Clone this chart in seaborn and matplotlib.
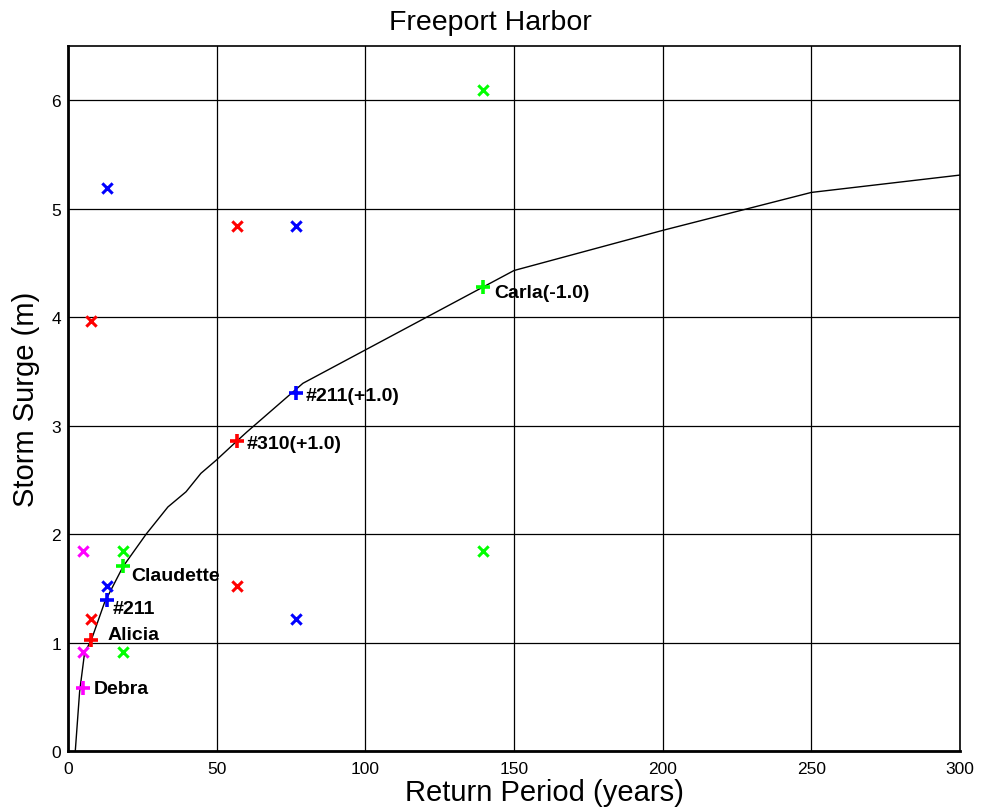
import numpy as np
import pandas as pd
import matplotlib
matplotlib.use("Agg")
import matplotlib.pyplot as plt
import seaborn as sns

# Fitted curve (return period vs surge)
curve_x = [2.45, 3.9, 5.6, 7.8, 12.3, 18.5, 26.3, 33.6, 39.7, 44.7, 49.8, 56.5, 60.1, 79.0, 150.0, 200.0, 250.0, 300.0]
curve_y = [0.0, 0.545, 0.91, 1.02, 1.37, 1.70, 2.0, 2.25, 2.39, 2.56, 2.68, 2.85, 2.94, 3.39, 4.43, 4.80, 5.15, 5.31]

# Storm "+" points
storm_names = ["Debra", "Alicia", "#211", "Claudette", "#310(+1.0)", "#211(+1.0)", "Carla(-1.0)"]
storm_x = [5.0, 7.7, 13.1, 18.5, 56.8, 76.7, 139.6]
storm_y = [0.58, 1.02, 1.39, 1.71, 2.86, 3.30, 4.28]
storm_color = ["#ff00ff", "#ff0000", "#0000ff", "#00ff00", "#ff0000", "#0000ff", "#00ff00"]

# "x" points (ranges)
rng_x = [5.0, 5.0, 7.7, 7.7, 13.1, 13.1, 18.5, 18.5, 56.8, 56.8, 76.7, 76.7, 139.6, 139.6]
rng_y = [1.84, 0.915, 1.22, 3.96, 1.52, 5.19, 1.84, 0.915, 4.84, 1.52, 4.84, 1.22, 6.09, 1.84]
rng_color = ["#ff00ff", "#ff00ff", "#ff0000", "#ff0000", "#0000ff", "#0000ff", "#00ff00", "#00ff00",
             "#ff0000", "#ff0000", "#0000ff", "#0000ff", "#00ff00", "#00ff00"]

# label offsets in points
label_dx = [8, 12, 4, 6, 7, 7, 8]
label_dy = [0, 4, -6, -7, -2, -2, -4]

x_ticks = [0, 50, 100, 150, 200, 250, 300]
y_ticks = [0, 1, 2, 3, 4, 5, 6]

sns.set_theme(style="white")
plt.rcParams['font.family'] = ['Liberation Sans', 'DejaVu Sans']
plt.rcParams['text.color'] = 'black'
plt.rcParams['axes.labelcolor'] = 'black'

fig = plt.figure(figsize=(9.82, 8.12), dpi=100)
ax = fig.add_axes([68/982, 1-752/812, (960-68)/982, (752-47)/812])

df_curve = pd.DataFrame({"x": curve_x, "y": curve_y})
sns.lineplot(data=df_curve, x="x", y="y", ax=ax, color="black", linewidth=1.0, sort=False, zorder=3)

df_rng = pd.DataFrame({"x": rng_x, "y": rng_y, "c": rng_color})
for c, sub in df_rng.groupby("c", sort=False):
    sns.scatterplot(data=sub, x="x", y="y", ax=ax, marker="x", s=55, color=c, linewidth=2.2, zorder=4)

df_st = pd.DataFrame({"x": storm_x, "y": storm_y, "c": storm_color, "name": storm_names})
for c, sub in df_st.groupby("c", sort=False):
    sns.scatterplot(data=sub, x="x", y="y", ax=ax, marker="+", s=110, color=c, linewidth=2.6, zorder=5)

for name, x, y, dx, dy in zip(storm_names, storm_x, storm_y, label_dx, label_dy):
    ax.annotate(name, (x, y), xytext=(dx, dy), textcoords="offset points",
                ha="left", va="center", fontsize=14, fontweight="bold", color="black")

ax.set_xlim(0, 300)
ax.set_ylim(0, 6.5)
ax.set_xticks(x_ticks)
ax.set_yticks(y_ticks)
ax.set_xticklabels([str(t) for t in x_ticks], fontsize=12.5)
ax.set_yticklabels([str(t) for t in y_ticks], fontsize=12.5)
ax.grid(True, color="black", linewidth=0.9)
ax.set_axisbelow(True)
ax.tick_params(direction="in", length=5, width=1, colors="black")
ax.tick_params(axis="x", pad=7)
ax.tick_params(axis="y", pad=5)
for s in ax.spines.values():
    s.set_color("black")
    s.set_linewidth(1.2)
ax.spines["bottom"].set_linewidth(2)
ax.spines["left"].set_linewidth(2)

ax.set_xlabel("Return Period (years)", fontsize=21, labelpad=2, color="black")
ax.xaxis.label.set_x((544 - 68) / 892)
ax.set_ylabel("Storm Surge (m)", fontsize=21, labelpad=8, color="black")
ax.set_title("Freeport Harbor", fontsize=20.5, pad=12, color="black", x=(490 - 68) / 892)

fig.savefig("out.png", dpi=100)
